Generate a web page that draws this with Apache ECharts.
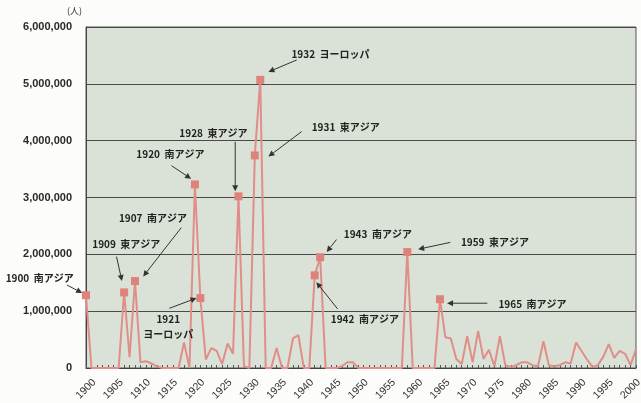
<!DOCTYPE html>
<html>
<head>
<meta charset="utf-8">
<script src="https://cdn.jsdelivr.net/npm/echarts@6/dist/echarts.min.js"></script>
<style>
    html, body { margin: 0; padding: 0; background: #fcfcfb; }
    #main { width: 641px; height: 403px; }
</style>
</head>
<body>
<div id="main"></div>
<script>
// Data (persons per year, 1900 - 2001)
const startYear = 1900;
const endYear = 2001;
const values = [
    1280000, 0, 0, 0, 0, 0, 0, 1330000, 190000, 1530000,          // 1900-1909
    100000, 120000, 80000, 30000, 0, 0, 0, 0, 450000, 0,            // 1910-1919
    3230000, 1230000, 150000, 350000, 300000, 70000, 430000, 250000, 3020000, 30000, // 1920-1929
    0, 3740000, 5070000, 0, 0, 350000, 0, 0, 520000, 580000,        // 1930-1939
    0, 0, 1630000, 1950000, 0, 0, 0, 30000, 100000, 100000,         // 1940-1949
    0, 0, 0, 0, 0, 0, 0, 0, 0, 2040000,                             // 1950-1959
    0, 0, 0, 0, 0, 1210000, 540000, 520000, 160000, 70000,          // 1960-1969
    560000, 100000, 650000, 160000, 320000, 30000, 560000, 50000, 20000, 50000, // 1970-1979
    100000, 100000, 50000, 30000, 470000, 50000, 30000, 50000, 100000, 80000,  // 1980-1989
    450000, 300000, 150000, 20000, 50000, 200000, 420000, 180000, 300000, 250000, // 1990-1999
    50000, 330000                                                    // 2000-2001
];

// Years with a square marker
const markerYears = [1900, 1907, 1909, 1920, 1921, 1928, 1931, 1932, 1942, 1943, 1959, 1965];

// Callouts: text position, arrow start and arrow tip, all in [year, persons]
const callouts = [
    { text: '1900  南アジア', at: [1891.5, 1580000], from: [1896.5, 1460000], to: [1899.3, 1320000] },
    { text: '1909  東アジア', at: [1907.4, 2180000], from: [1905.6, 1960000], to: [1906.6, 1530000] },
    { text: '1907  南アジア', at: [1912.3, 2630000], from: [1917.5, 2470000], to: [1910.5, 1610000] },
    { text: '1921\nヨーロッパ', at: [1915.1, 720000], from: [1915.3, 1050000], to: [1920.3, 1230000] },
    { text: '1920  南アジア', at: [1915.5, 3770000], from: [1915.7, 3560000], to: [1919.3, 3330000] },
    { text: '1928  東アジア', at: [1923.4, 4140000], from: [1927.4, 3980000], to: [1927.4, 3110000] },
    { text: '1932  ヨーロッパ', at: [1944.9, 5530000], from: [1938.7, 5420000], to: [1933.5, 5210000] },
    { text: '1931  東アジア', at: [1947.7, 4230000], from: [1939.6, 4160000], to: [1933.5, 3720000] },
    { text: '1943  南アジア', at: [1953.6, 2350000], from: [1946.0, 2260000], to: [1944.2, 2040000] },
    { text: '1942  南アジア', at: [1951.2, 860000], from: [1946.2, 1040000], to: [1942.3, 1510000] },
    { text: '1959  東アジア', at: [1975.1, 2210000], from: [1966.9, 2210000], to: [1961.0, 2090000] },
    { text: '1965  南アジア', at: [1982.0, 1120000], from: [1973.7, 1140000], to: [1966.3, 1140000] }
];

const chart = echarts.init(document.getElementById('main'));

const seriesData = values.map((v, i) => {
    const year = startYear + i;
    if (markerYears.includes(year)) {
        return { value: [year, v], symbol: 'rect', symbolSize: 8 };
    }
    return { value: [year, v], symbol: 'none' };
});

const option = {
    animation: false,
    backgroundColor: '#fcfcfb',
    grid: {
        left: 86, top: 27, right: 5, bottom: 35,
        outerBoundsMode: 'none',
        show: true,
        backgroundColor: '#dae1d7',
        borderColor: '#555',
        borderWidth: 1
    },
    xAxis: {
        type: 'value',
        min: startYear,
        max: endYear,
        interval: 5,
        axisLine: { show: true, lineStyle: { color: '#444' } },
        axisTick: { show: true, inside: true, length: 3, lineStyle: { color: '#555' } },
        minorTick: { show: true, splitNumber: 5, length: 3, lineStyle: { color: '#555' } },
        splitLine: { show: false },
        axisLabel: {
            rotate: 45,
            align: 'center',
            verticalAlign: 'middle',
            margin: 21,
            showMaxLabel: false,
            color: '#333',
            fontSize: 10.5,
            fontFamily: 'Liberation Sans',
            formatter: v => String(v)
        },
        name: '(年)',
        nameLocation: 'end',
        nameGap: -8,
        nameTextStyle: {
            align: 'left', verticalAlign: 'top', padding: [18, 0, 0, 0],
            color: '#333', fontSize: 9, fontFamily: 'Noto Sans CJK JP'
        }
    },
    yAxis: {
        type: 'value',
        min: 0,
        max: 6000000,
        interval: 1000000,
        axisLine: { show: true, lineStyle: { color: '#444' } },
        axisTick: { show: false },
        splitLine: { lineStyle: { color: '#4a4a4a', width: 1 } },
        axisLabel: {
            margin: 14,
            color: '#2a2a2a',
            fontWeight: 'bold',
            fontSize: 11,
            fontFamily: 'Liberation Sans',
            formatter: v => v.toLocaleString('en-US')
        },
        name: '(人)',
        nameLocation: 'end',
        nameGap: 12,
        nameTextStyle: {
            align: 'right', padding: [0, 4, 0, 0],
            color: '#333', fontSize: 9, fontFamily: 'Noto Sans CJK JP'
        }
    },
    series: [{
        type: 'line',
        data: seriesData,
        showAllSymbol: true,
        lineStyle: { color: '#df8f88', width: 2 },
        itemStyle: { color: '#e0827c' }
    }]
};

chart.setOption(option);

// Callout texts and arrows, positioned through the chart's own scales
function buildCallouts() {
    const els = [];
    const toPx = c => chart.convertToPixel({ gridIndex: 0 }, c);
    callouts.forEach(c => {
        const p = toPx(c.at);
        els.push({
            type: 'text',
            x: p[0], y: p[1],
            style: {
                text: c.text,
                align: 'center',
                verticalAlign: 'middle',
                fontSize: 10,
                fontWeight: 'bold',
                fontFamily: 'Noto Sans CJK JP',
                lineHeight: 15,
                fill: '#222'
            },
            z: 10
        });
        const a = toPx(c.from);
        const b = toPx(c.to);
        const dx = b[0] - a[0], dy = b[1] - a[1];
        const len = Math.sqrt(dx * dx + dy * dy);
        const ux = dx / len, uy = dy / len;
        const head = 6, half = 3;
        const bx = b[0] - ux * head, by = b[1] - uy * head;
        els.push({
            type: 'line',
            shape: { x1: a[0], y1: a[1], x2: bx, y2: by },
            style: { stroke: '#333', lineWidth: 1 },
            z: 10
        });
        els.push({
            type: 'polygon',
            shape: {
                points: [
                    [b[0], b[1]],
                    [bx - uy * half, by + ux * half],
                    [bx + uy * half, by - ux * half]
                ]
            },
            style: { fill: '#333' },
            z: 10
        });
    });
    return els;
}

chart.setOption({ graphic: buildCallouts() });
</script>
</body>
</html>
